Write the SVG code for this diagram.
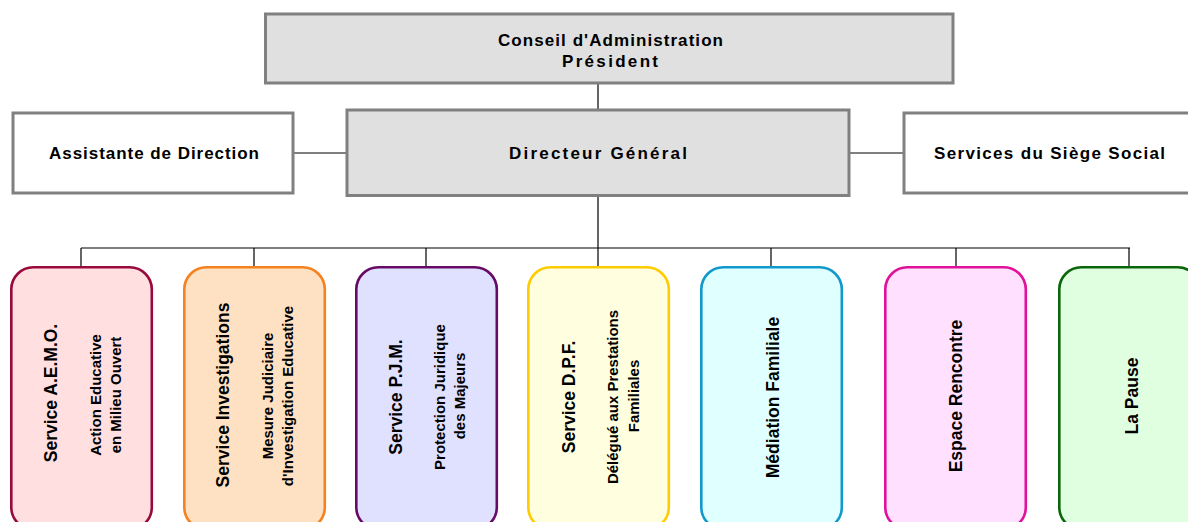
<svg xmlns="http://www.w3.org/2000/svg" width="1188" height="522" viewBox="0 0 1188 522">
<style>
.top{fill:#e0e0e0;stroke:#808080;stroke-width:3}
.side{fill:#ffffff;stroke:#808080;stroke-width:3}
.svc{stroke-width:2.6}
.t{font-family:"Liberation Sans",Arial,sans-serif;font-weight:bold;fill:#000;text-anchor:middle}
.h{font-size:17px}
.m{font-size:17.5px}
.s{font-size:15px}
.conn{stroke:#000;stroke-width:1.2;fill:none}
</style>
<rect width="1188" height="522" fill="#ffffff"/>
<g id="connectors">
<path class="conn" d="M598 83V110M293 153H347M849 153H904M598 196V248M81 248H1130M81 248V266M254 248V266M426 248V266M598 248V266M771 248V266M956 248V266M1129 248V266"/>
</g>
<g id="conseil">
<rect class="top" x="265.5" y="14" width="687.5" height="69"/>
<text class="t h" x="610.5" y="46" textLength="225" lengthAdjust="spacing">Conseil d'Administration</text>
<text class="t h" x="610" y="67" textLength="96" lengthAdjust="spacing">Président</text>
</g>
<g id="assistante">
<rect class="side" x="13" y="113" width="280" height="80"/>
<text class="t h" x="154" y="159" textLength="210" lengthAdjust="spacing">Assistante de Direction</text>
</g>
<g id="directeur">
<rect class="top" x="347" y="110" width="502" height="85.5"/>
<text class="t h" x="598" y="159" textLength="178" lengthAdjust="spacing">Directeur Général</text>
</g>
<g id="siege">
<rect class="side" x="904" y="113" width="292" height="80"/>
<text class="t h" x="1049.5" y="159" textLength="231" lengthAdjust="spacing">Services du Siège Social</text>
</g>
<g id="aemo">
<rect class="svc" x="11.3" y="267.3" width="140.5" height="262" rx="22" fill="#ffdfe0" stroke="#990a3c"/>
<text class="t m" transform="translate(57,393) rotate(-90)">Service A.E.M.O.</text>
<text class="t s" transform="translate(101,395) rotate(-90)">Action Educative</text>
<text class="t s" transform="translate(121,395) rotate(-90)">en Milieu Ouvert</text>
</g>
<g id="investigations">
<rect class="svc" x="184.3" y="267.3" width="140.5" height="262" rx="22" fill="#fee0c2" stroke="#f5821f"/>
<text class="t m" transform="translate(229,395) rotate(-90)">Service Investigations</text>
<text class="t s" transform="translate(272.5,396) rotate(-90)">Mesure Judiciaire</text>
<text class="t s" transform="translate(292.5,396) rotate(-90)">d'Investigation Educative</text>
</g>
<g id="pjm">
<rect class="svc" x="356.3" y="267.3" width="140.5" height="262" rx="22" fill="#e0e0ff" stroke="#660a66"/>
<text class="t m" transform="translate(402,397) rotate(-90)">Service P.J.M.</text>
<text class="t s" transform="translate(445,397) rotate(-90)">Protection Juridique</text>
<text class="t s" transform="translate(465,396) rotate(-90)">des Majeurs</text>
</g>
<g id="dpf">
<rect class="svc" x="528.3" y="267.3" width="140.5" height="262" rx="22" fill="#ffffe0" stroke="#ffcc00"/>
<text class="t m" transform="translate(575,397) rotate(-90)">Service D.P.F.</text>
<text class="t s" transform="translate(617.5,397) rotate(-90)">Délégué aux Prestations</text>
<text class="t s" transform="translate(638.5,396) rotate(-90)">Familiales</text>
</g>
<g id="mediation">
<rect class="svc" x="701.3" y="267.3" width="140.5" height="262" rx="22" fill="#e0ffff" stroke="#1199cc"/>
<text class="t m" transform="translate(779,397.5) rotate(-90)">Médiation Familiale</text>
</g>
<g id="espace">
<rect class="svc" x="885.3" y="267.3" width="140.5" height="262" rx="22" fill="#ffe0ff" stroke="#e0119a"/>
<text class="t m" transform="translate(961.5,396) rotate(-90)">Espace Rencontre</text>
</g>
<g id="pause">
<rect class="svc" x="1059.3" y="267.3" width="140.5" height="262" rx="22" fill="#e0ffe0" stroke="#0a660a"/>
<text class="t m" transform="translate(1137.5,396) rotate(-90)">La Pause</text>
</g>
</svg>
